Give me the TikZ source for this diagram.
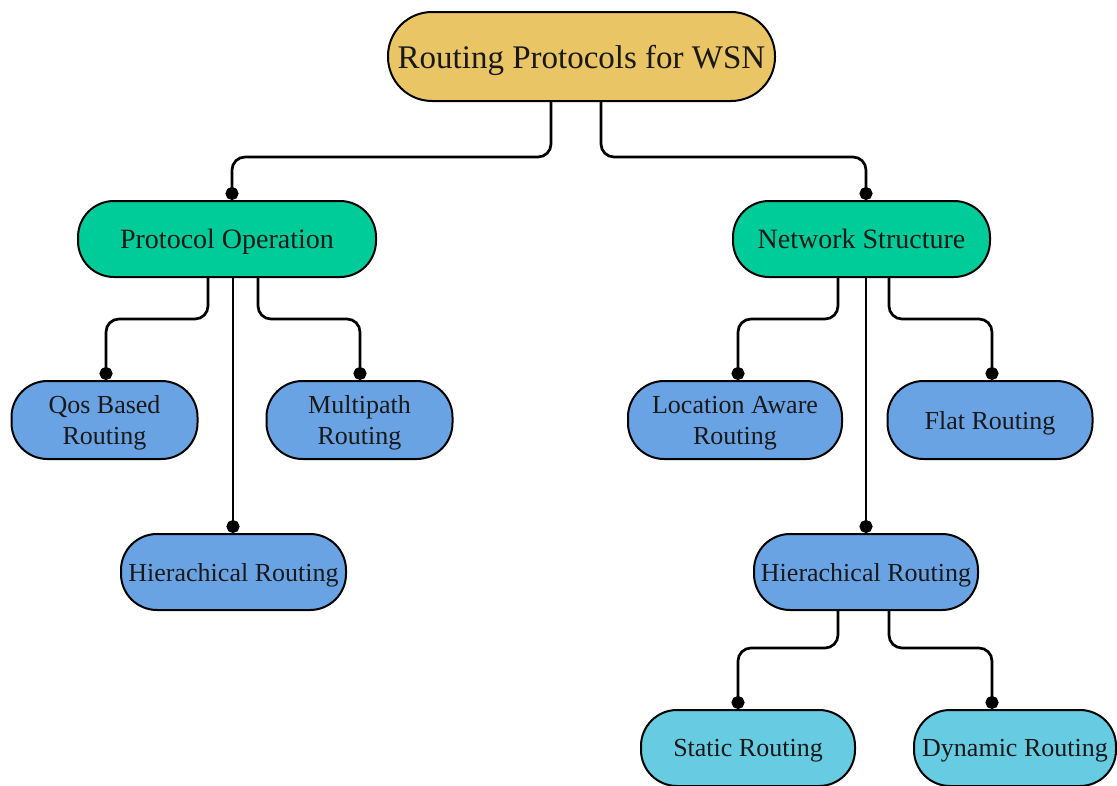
\documentclass[tikz,border=0pt]{standalone}
\usepackage{fontspec}
\setmainfont{Liberation Serif}
\usetikzlibrary{arrows.meta}
\definecolor{rootfill}{RGB}{233,197,102}
\definecolor{midfill}{RGB}{0,204,153}
\definecolor{leaffill}{RGB}{106,163,228}
\definecolor{lowfill}{RGB}{103,203,225}
\tikzset{
  pill/.style={draw=black, line width=2pt, rounded corners=36pt, inner sep=0pt,
    align=center, text=black!90, text depth=0pt},
  rootbox/.style={pill, fill=rootfill, rounded corners=44pt,
    minimum width=387pt, minimum height=89pt, font=\fontsize{33}{38}\selectfont},
  midbox/.style={pill, fill=midfill, minimum height=76pt,
    font=\fontsize{28}{31}\selectfont},
  leafbox/.style={pill, fill=leaffill, minimum height=78pt,
    font=\fontsize{26}{31}\selectfont},
  lowbox/.style={pill, fill=lowfill, minimum height=76pt,
    font=\fontsize{26}{31}\selectfont},
  link/.style={draw=black, line width=2.7pt, rounded corners=13pt,
    -{Circle[length=13pt]}},
}
\begin{document}
\begin{tikzpicture}[x=1pt, y=-1pt]
\useasboundingbox (0,0) rectangle (1117,785);

% nodes
\node[rootbox] (root) at (581.5,56.5) {Routing Protocols for WSN};
\node[midbox, minimum width=298pt] (po) at (227,239) {Protocol Operation};
\node[midbox, minimum width=257pt] (ns) at (861.5,239) {Network Structure};
\node[leafbox, minimum width=186pt] (qos) at (104.5,420) {Qos Based\\Routing};
\node[leafbox, minimum width=186pt] (mp) at (359.5,420) {Multipath\\Routing};
\node[leafbox, minimum width=225pt, minimum height=76pt] (hrl) at (233.5,572) {Hierachical Routing};
\node[leafbox, minimum width=214pt] (la) at (735,420) {Location Aware\\Routing};
\node[leafbox, minimum width=205pt] (fr) at (990,420) {Flat Routing};
\node[leafbox, minimum width=224pt, minimum height=76pt] (hrr) at (866,572) {Hierachical Routing};
\node[lowbox, minimum width=214pt] (sr) at (748,748) {Static Routing};
\node[lowbox, minimum width=202pt] (dr) at (1015,748) {Dynamic Routing};

% connectors from the root
\draw[link] (root.south -| 551,0) -- (551,157) -| (po.north -| 232,0);
\draw[link] (root.south -| 601,0) -- (601,157) -| (ns.north -| 866,0);

% connectors from Protocol Operation
\draw[link] (po.south -| 208,0) -- (208,319) -| (qos.north -| 106,0);
\draw[link] (po.south -| 258,0) -- (258,319) -| (mp.north -| 360,0);
\draw[link] (po.south -| 233,0) -- (hrl.north -| 233,0);

% connectors from Network Structure
\draw[link] (ns.south -| 838,0) -- (838,319) -| (la.north -| 738,0);
\draw[link] (ns.south -| 889,0) -- (889,319) -| (fr.north -| 992,0);
\draw[link] (ns.south -| 866,0) -- (hrr.north -| 866,0);

% connectors from Hierachical Routing
\draw[link] (hrr.south -| 838,0) -- (838,648) -| (sr.north -| 738,0);
\draw[link] (hrr.south -| 889,0) -- (889,648) -| (dr.north -| 992,0);
\end{tikzpicture}
\end{document}
